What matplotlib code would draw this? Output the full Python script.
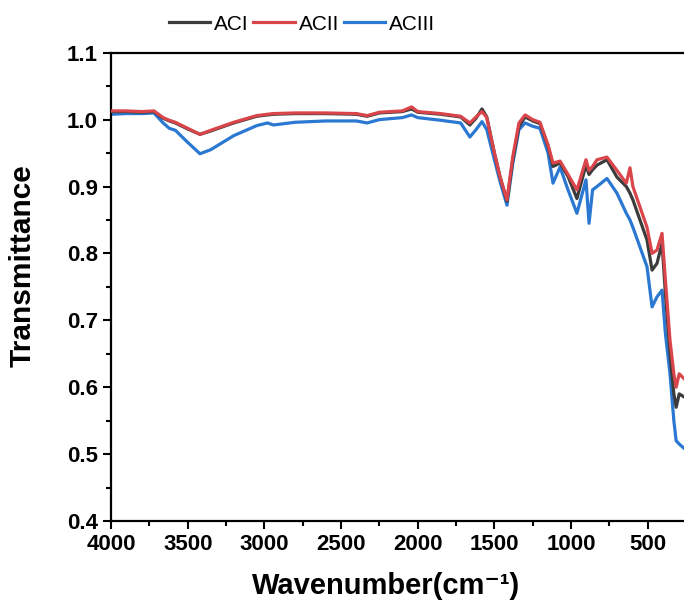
import matplotlib
matplotlib.use("Agg")
import matplotlib.pyplot as plt
from matplotlib.ticker import MultipleLocator

wavenumber = [4000, 3900, 3800, 3720, 3660, 3620, 3580, 3500, 3420, 3350, 3200, 3050,
              2980, 2940, 2800, 2600, 2400, 2330, 2250, 2100, 2040, 2000, 1850, 1720,
              1660, 1620, 1581, 1550, 1500, 1464, 1418, 1380, 1340, 1300, 1250, 1203,
              1150, 1118, 1072, 1020, 962, 903, 883, 860, 831, 766, 701, 640, 616, 597,
              505, 472, 440, 407, 385, 355, 330, 315, 295, 260]

aci = [1.012, 1.012, 1.011, 1.012, 1.002, 0.998, 0.995, 0.986, 0.978, 0.983, 0.995, 1.005,
       1.007, 1.008, 1.009, 1.009, 1.008, 1.005, 1.010, 1.012, 1.016, 1.011, 1.008, 1.004,
       0.992, 1.002, 1.016, 1.004, 0.950, 0.915, 0.878, 0.940, 0.990, 1.004, 0.998, 0.994,
       0.960, 0.930, 0.935, 0.915, 0.882, 0.932, 0.918, 0.925, 0.932, 0.940, 0.914, 0.900, 0.890, 0.880,
       0.820, 0.775, 0.785, 0.815, 0.740, 0.650, 0.590, 0.570, 0.590, 0.585]

acii = [1.013, 1.013, 1.012, 1.013, 1.003, 0.999, 0.996, 0.987, 0.978, 0.984, 0.996, 1.006,
        1.008, 1.009, 1.010, 1.010, 1.009, 1.006, 1.011, 1.013, 1.019, 1.012, 1.009, 1.005,
        0.995, 1.004, 1.012, 1.003, 0.950, 0.915, 0.880, 0.945, 0.995, 1.007, 1.000, 0.996,
        0.962, 0.935, 0.938, 0.918, 0.895, 0.940, 0.924, 0.930, 0.940, 0.944, 0.924, 0.905, 0.928, 0.900,
        0.839, 0.800, 0.805, 0.830, 0.760, 0.670, 0.620, 0.600, 0.620, 0.612]

aciii = [1.008, 1.009, 1.009, 1.010, 0.995, 0.987, 0.984, 0.966, 0.949, 0.955, 0.976, 0.991,
         0.995, 0.992, 0.996, 0.998, 0.998, 0.995, 1.000, 1.003, 1.007, 1.003, 0.999, 0.995,
         0.974, 0.985, 0.997, 0.985, 0.940, 0.908, 0.872, 0.935, 0.985, 0.995, 0.990, 0.987,
         0.950, 0.905, 0.929, 0.895, 0.860, 0.910, 0.845, 0.895, 0.900, 0.912, 0.890, 0.860, 0.850, 0.839,
         0.780, 0.720, 0.735, 0.745, 0.680, 0.620, 0.550, 0.520, 0.515, 0.508]

series_names = ["ACI", "ACII", "ACIII"]
colors = {"ACI": "#3c3c3c", "ACII": "#d9454a", "ACIII": "#2a78d2"}

plt.rcParams['font.family'] = ['Liberation Sans', 'DejaVu Sans']

fig = plt.figure(figsize=(6.84, 6.06), dpi=100)
ax = fig.add_axes([0.1623, 0.1403, 0.852, 0.7727])

lines = {}
lines["ACIII"], = ax.plot(wavenumber, aciii, color=colors["ACIII"], lw=2.3, label="ACIII", zorder=2)
lines["ACI"], = ax.plot(wavenumber, aci, color=colors["ACI"], lw=2.3, label="ACI", zorder=3)
lines["ACII"], = ax.plot(wavenumber, acii, color=colors["ACII"], lw=2.3, label="ACII", zorder=4)

ax.set_xlim(4000, 200)
ax.set_ylim(0.4, 1.1)
ax.xaxis.set_major_locator(MultipleLocator(500))
ax.xaxis.set_minor_locator(MultipleLocator(250))
ax.yaxis.set_major_locator(MultipleLocator(0.1))
ax.yaxis.set_minor_locator(MultipleLocator(0.05))
ax.tick_params(which='major', direction='out', length=6, width=1.5, labelsize=16)
ax.tick_params(which='minor', direction='out', length=3.5, width=1.5)
for lab in ax.get_xticklabels() + ax.get_yticklabels():
    lab.set_fontweight('bold')
for sp in ax.spines.values():
    sp.set_linewidth(1.6)
ax.spines['right'].set_visible(False)

ax.set_xlabel("Wavenumber(cm\u207b\u00b9)", fontsize=21, fontweight='bold')
ax.set_ylabel("Transmittance", fontsize=21.5, fontweight='bold')
ax.xaxis.set_label_coords(0.4717, -0.108)
ax.yaxis.set_label_coords(-0.128, 0.545)

fig.legend([lines[n] for n in series_names], series_names, loc='center',
           bbox_to_anchor=(302 / 684, 1 - 24 / 606), ncol=3, frameon=False,
           fontsize=15, handlelength=2.0, handletextpad=0.2, columnspacing=0.2)

fig.savefig("out.png", dpi=100)
